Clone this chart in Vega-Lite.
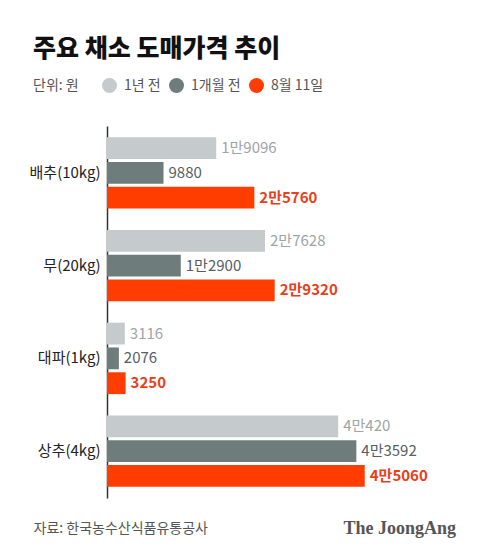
{
  "$schema": "https://vega.github.io/schema/vega-lite/v6.json",
  "autosize": {"type": "none"},
  "padding": {"left": 107, "top": 126, "right": 87, "bottom": 58},
  "width": 286,
  "height": 372,
  "background": "white",
  "config": {
    "view": {"stroke": null},
    "font": "Noto Sans CJK KR"
  },
  "title": {
    "text": "주요 채소 도매가격 추이",
    "anchor": "start",
    "frame": "group",
    "dx": -74,
    "offset": -9,
    "baseline": "bottom",
    "font": "Noto Sans CJK KR",
    "fontSize": 25,
    "fontWeight": 900,
    "color": "#111111"
  },
  "data": {
    "values": [
      {"item": "배추(10kg)", "series": "1년 전", "value": 19096, "label": "1만9096"},
      {"item": "배추(10kg)", "series": "1개월 전", "value": 9880, "label": "9880"},
      {"item": "배추(10kg)", "series": "8월 11일", "value": 25760, "label": "2만5760"},
      {"item": "무(20kg)", "series": "1년 전", "value": 27628, "label": "2만7628"},
      {"item": "무(20kg)", "series": "1개월 전", "value": 12900, "label": "1만2900"},
      {"item": "무(20kg)", "series": "8월 11일", "value": 29320, "label": "2만9320"},
      {"item": "대파(1kg)", "series": "1년 전", "value": 3116, "label": "3116"},
      {"item": "대파(1kg)", "series": "1개월 전", "value": 2076, "label": "2076"},
      {"item": "대파(1kg)", "series": "8월 11일", "value": 3250, "label": "3250"},
      {"item": "상추(4kg)", "series": "1년 전", "value": 40420, "label": "4만420"},
      {"item": "상추(4kg)", "series": "1개월 전", "value": 43592, "label": "4만3592"},
      {"item": "상추(4kg)", "series": "8월 11일", "value": 45060, "label": "4만5060"}
    ]
  },
  "encoding": {
    "y": {
      "field": "item",
      "type": "nominal",
      "sort": ["배추(10kg)", "무(20kg)", "대파(1kg)", "상추(4kg)"],
      "scale": {"paddingInner": 0.23, "paddingOuter": 0.12},
      "axis": {
        "title": "The JoongAng",
        "titleAngle": 0,
        "titleX": 236,
        "titleY": 402,
        "titleAlign": "left",
        "titleBaseline": "middle",
        "titleFont": "Liberation Serif",
        "titleFontSize": 18,
        "titleFontWeight": "bold",
        "titleColor": "#555555",
        "ticks": false,
        "labelPadding": 7,
        "labelFontSize": 15,
        "labelColor": "#222222",
        "labelFont": "Noto Sans CJK KR",
        "domainColor": "#333333",
        "domainWidth": 1.5
      }
    },
    "yOffset": {
      "field": "series",
      "type": "nominal",
      "sort": ["1년 전", "1개월 전", "8월 11일"],
      "scale": {"paddingInner": 0.12, "paddingOuter": 0}
    },
    "x": {
      "field": "value",
      "type": "quantitative",
      "scale": {"domain": [0, 50000]},
      "axis": {
        "title": "자료: 한국농수산식품유통공사",
        "titleX": -74,
        "titleY": 30,
        "titleAlign": "left",
        "titleAnchor": "start",
        "titleBaseline": "middle",
        "titleFont": "Noto Sans CJK KR",
        "titleFontSize": 14,
        "titleFontWeight": "normal",
        "titleColor": "#555555",
        "domain": false,
        "ticks": false,
        "labels": false,
        "grid": false
      }
    }
  },
  "layer": [
    {
      "mark": {"type": "bar"},
      "encoding": {
        "color": {
          "field": "series",
          "type": "nominal",
          "sort": ["1년 전", "1개월 전", "8월 11일"],
          "scale": {"domain": ["1년 전", "1개월 전", "8월 11일"], "range": ["#C5CACD", "#6F7C7C", "#FF3D00"]},
          "legend": {
            "orient": "none",
            "legendX": -74,
            "legendY": -48,
            "direction": "horizontal",
            "title": "단위: 원",
            "titleOrient": "left",
            "titleBaseline": "middle",
            "titleFont": "Noto Sans CJK KR",
            "titleFontSize": 14,
            "titleFontWeight": "normal",
            "titleColor": "#555555",
            "titlePadding": 23,
            "symbolType": "circle",
            "symbolSize": 225,
            "symbolStrokeWidth": 0,
            "labelFont": "Noto Sans CJK KR",
            "labelFontSize": 14,
            "labelColor": "#555555",
            "labelOffset": 7,
            "columnPadding": 8
          }
        }
      }
    },
    {
      "transform": [{"filter": "datum.series === '1년 전'"}],
      "mark": {"type": "text", "align": "left", "dx": 5, "baseline": "middle", "fontSize": 15, "color": "#9FA4A7", "font": "Noto Sans CJK KR"},
      "encoding": {"text": {"field": "label"}}
    },
    {
      "transform": [{"filter": "datum.series === '1개월 전'"}],
      "mark": {"type": "text", "align": "left", "dx": 5, "baseline": "middle", "fontSize": 15, "color": "#556063", "font": "Noto Sans CJK KR"},
      "encoding": {"text": {"field": "label"}}
    },
    {
      "transform": [{"filter": "datum.series === '8월 11일'"}],
      "mark": {"type": "text", "align": "left", "dx": 5, "baseline": "middle", "fontSize": 15, "fontWeight": "bold", "color": "#E8401A", "font": "Noto Sans CJK KR"},
      "encoding": {"text": {"field": "label"}}
    }
  ]
}
